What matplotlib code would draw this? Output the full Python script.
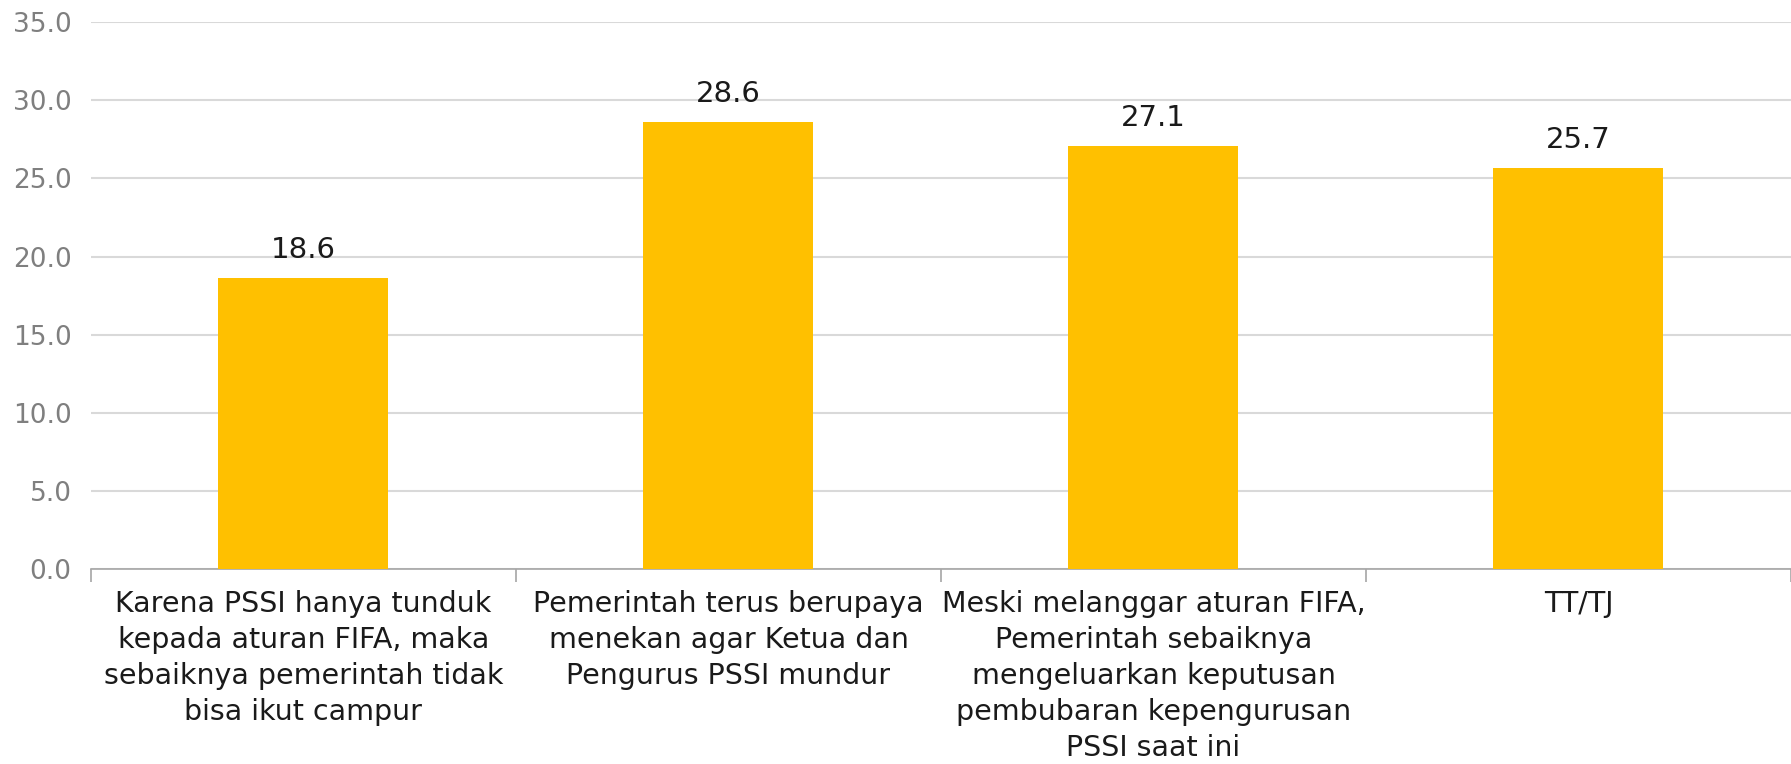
import matplotlib.pyplot as plt
import numpy as np

categories = [
    "Karena PSSI hanya tunduk\nkepada aturan FIFA, maka\nsebaiknya pemerintah tidak\nbisa ikut campur",
    "Pemerintah terus berupaya\nmenekan agar Ketua dan\nPengurus PSSI mundur",
    "Meski melanggar aturan FIFA,\nPemerintah sebaiknya\nmengeluarkan keputusan\npembubaran kepengurusan\nPSSI saat ini",
    "TT/TJ",
]
values = [18.6, 28.6, 27.1, 25.7]
yticks = [0, 5, 10, 15, 20, 25, 30, 35]

plt.rcParams['font.family'] = ['DejaVu Sans']

fig = plt.figure(figsize=(17.91, 7.64), dpi=100)
ax = fig.add_axes([0.0508, 0.255, 0.9492, 0.716])

x = np.arange(len(values))
ax.bar(x, values, width=0.4, color='#FFC000', zorder=3)

for xi, v in zip(x, values):
    ax.annotate(f"{v:.1f}", (xi, v), xytext=(0, 14), textcoords='offset pixels',
                ha='center', va='bottom', fontsize=21, color='#1a1a1a')

ax.set_xlim(-0.5, len(values) - 0.5)
ax.set_ylim(0, 35)
ax.set_yticks(yticks)
ax.set_yticklabels([f"{t:.1f}" for t in yticks], fontsize=19, color='#7f7f7f')
ax.tick_params(axis='y', length=0, pad=14)
ax.yaxis.grid(True, color='#d9d9d9', linewidth=1.5, zorder=0)

ax.set_xticks(x)
ax.set_xticklabels(categories, fontsize=20.5, color='#1a1a1a', linespacing=1.36)
ax.tick_params(axis='x', which='major', length=0, pad=15)
ax.set_xticks(np.arange(-0.5, len(values)), minor=True)
ax.tick_params(axis='x', which='minor', length=9, width=1.2, color='#a6a6a6')

for s in ['top', 'right', 'left']:
    ax.spines[s].set_visible(False)
ax.spines['bottom'].set_color('#a6a6a6')
ax.spines['bottom'].set_linewidth(1.2)

fig.savefig('out.png', dpi=100)
